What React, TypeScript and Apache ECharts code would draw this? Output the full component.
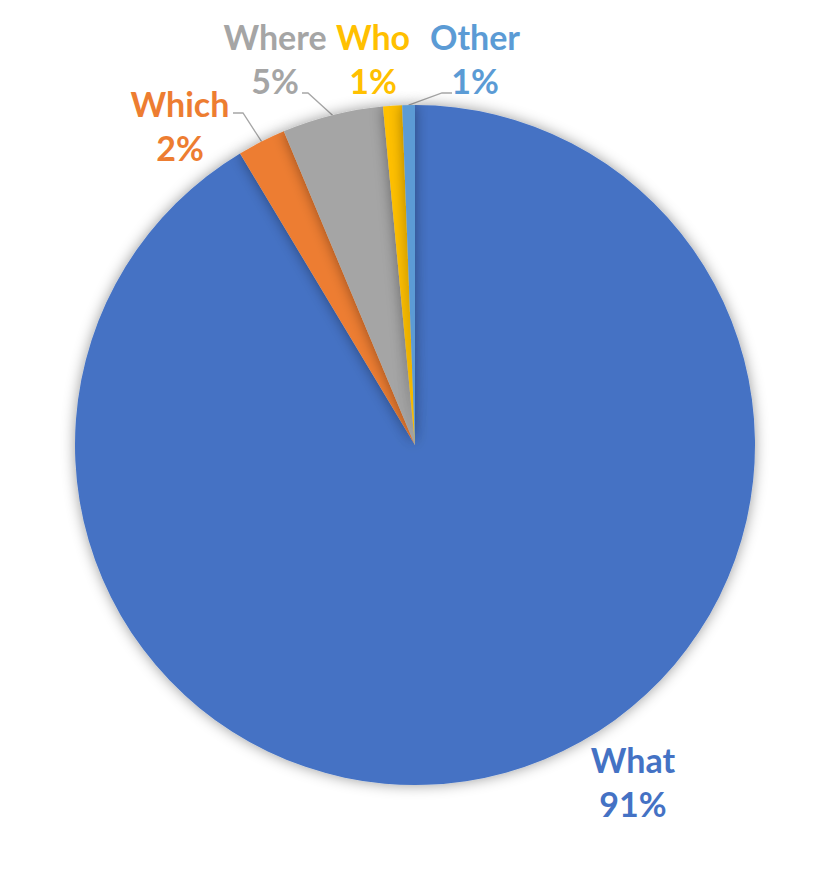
import React, { useEffect, useRef } from "react";
import * as echarts from "echarts";

const categories = ["What", "Which", "Where", "Who", "Other"];
const values = [91.4, 2.3, 4.8, 0.9, 0.6];
const colors = ["#4472C4", "#ED7D31", "#A5A5A5", "#FFC000", "#5B9BD5"];
const showLine = [false, true, true, false, true];

// label placement (center x, top y) and label-line elbow/end points
const labelPos: [number, number][] = [
  [633, 737],
  [180, 81],
  [275, 14],
  [373, 14],
  [475, 14],
];
const lineElbow: ([number, number] | null)[] = [
  null,
  [243, 113],
  [308, 93],
  null,
  [442, 93],
];
const lineEnd: ([number, number] | null)[] = [
  null,
  [233, 113],
  [302, 93],
  null,
  [452, 93],
];

export default function App() {
  const ref = useRef<HTMLDivElement>(null);
  useEffect(() => {
    document.body.style.margin = "0";
    const chart = echarts.init(ref.current!, null, { renderer: "svg" });
    chart.setOption({
      animation: false,
      backgroundColor: "#ffffff",
      series: [
        {
          type: "pie",
          center: [415, 445],
          radius: 340,
          startAngle: 90,
          clockwise: true,
          percentPrecision: 0,
          avoidLabelOverlap: false,
          itemStyle: {
            borderWidth: 0,
            shadowBlur: 14,
            shadowColor: "rgba(0,0,0,0.4)",
          },
          emphasis: { disabled: true },
          label: {
            show: true,
            position: "outside",
            formatter: "{b}\n{d}%",
            fontFamily: "Lato, 'Open Sans', sans-serif",
            fontWeight: "bold",
            fontSize: 34,
            lineHeight: 44,
          },
          labelLine: {
            show: true,
            lineStyle: { color: "#A6A6A6", width: 1.3 },
          },
          labelLayout: (params: any) => {
            const i = params.dataIndex;
            const [x, y] = labelPos[i];
            const res: any = { x, y, align: "center", verticalAlign: "top" };
            const pts = params.labelLinePoints;
            if (pts && lineElbow[i] && lineEnd[i]) {
              res.labelLinePoints = [pts[0], lineElbow[i], lineEnd[i]];
            }
            return res;
          },
          data: categories.map((name, i) => ({
            name,
            value: values[i],
            itemStyle: { color: colors[i] },
            label: { color: colors[i] },
            labelLine: { show: showLine[i] },
          })),
        },
      ],
    });
    return () => chart.dispose();
  }, []);
  return <div ref={ref} style={{ width: 830, height: 892 }} />;
}
